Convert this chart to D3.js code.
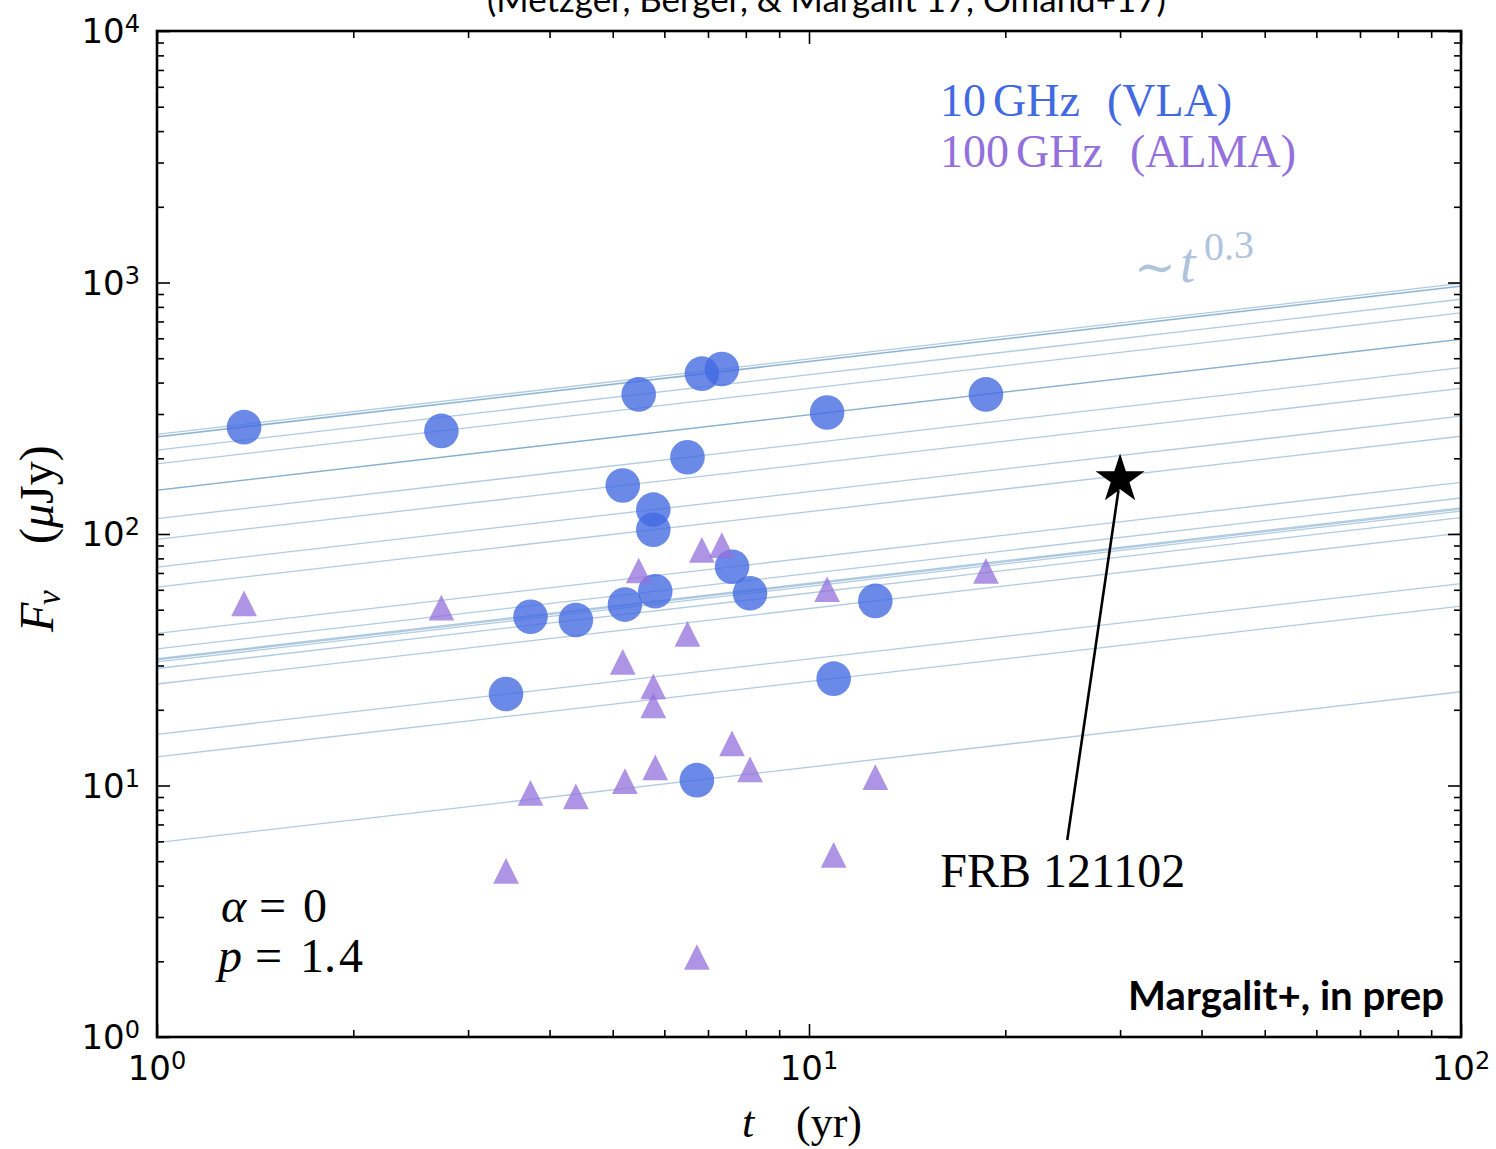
<!DOCTYPE html>
<html>
<head>
<meta charset="utf-8">
<script src="https://cdn.jsdelivr.net/npm/d3@7"></script>
<style>
  body { margin: 0; background: #fff; }
  svg { display: block; }
</style>
</head>
<body>
<svg id="chart" width="1496" height="1149"></svg>
<script>
// Source ages (yr) and flux densities (µJy) of the persistent radio sources
const ages       = [1.36, 2.73, 3.43, 3.74, 4.39, 5.18, 5.22, 5.48, 5.77, 5.77, 5.81, 6.51, 6.85, 7.35, 6.73, 7.62, 8.12, 10.66, 10.91, 12.64, 18.68];
const flux10GHz  = [266, 257, 23.1, 46.9, 45.5, 156, 52.4, 359, 125, 104, 59.2, 202, 434, 453, 10.5, 74.1, 58.1, 304, 26.6, 54.2, 359];
const flux100GHz = [53.0, 51.0, 4.58, 9.35, 9.06, 31.0, 10.4, 71.6, 24.8, 20.8, 11.8, 40.1, 86.4, 90.3, 2.08, 14.7, 11.6, 60.3, 5.30, 10.8, 71.4];

// FRB 121102 persistent source
const frbAge = 30;
const frbFlux = 165;
const frbLabelPos = [15.9, 3.95];   // (t, F) of the label's baseline start

// Rising light-curve tracks  F ∝ t^0.3
const growthIndex = 0.3;

const xDomain = [1, 100];
const yDomain = [1, 1e4];
const xMajor = [1, 10, 100];
const yMajor = [1, 10, 100, 1000, 10000];
const xExponents = ["0", "1", "2"];
const yExponents = ["0", "1", "2", "3", "4"];

const plot = { left: 157, right: 1461, top: 31, bottom: 1037 };

const svg = d3.select("#chart");
const x = d3.scaleLog().domain(xDomain).range([plot.left, plot.right]);
const y = d3.scaleLog().domain(yDomain).range([plot.bottom, plot.top]);

function minorTicks(domain) {
  const out = [];
  for (let d = domain[0]; d < domain[1]; d *= 10)
    for (let k = 2; k <= 9; k++) out.push(d * k);
  return out;
}

const SERIF = "'Liberation Serif', 'DejaVu Serif', serif";
const SANS = "'DejaVu Sans', sans-serif";

svg.append("defs").append("clipPath").attr("id", "plotClip")
  .append("rect")
  .attr("x", plot.left).attr("y", plot.top)
  .attr("width", plot.right - plot.left).attr("height", plot.bottom - plot.top);

// ---- power-law tracks through each 10 GHz point ----
const trackLine = d3.line().x(d => x(d[0])).y(d => y(d[1]));
const tracks = ages.map((t0, i) => xDomain.map(t => [t, flux10GHz[i] * Math.pow(t / t0, growthIndex)]));
svg.append("g").attr("clip-path", "url(#plotClip)")
  .selectAll("path").data(tracks).join("path")
  .attr("d", trackLine)
  .attr("fill", "none")
  .attr("stroke", "#4682b4")
  .attr("stroke-opacity", 0.42)
  .attr("stroke-width", 1.3);

// ---- 10 GHz (VLA) points ----
const pts = ages.map((t, i) => ({ t, f10: flux10GHz[i], f100: flux100GHz[i] }));
svg.append("g").selectAll("circle").data(pts).join("circle")
  .attr("cx", d => x(d.t)).attr("cy", d => y(d.f10))
  .attr("r", 17.3)
  .attr("fill", "#4169e1")
  .attr("fill-opacity", 0.78);

// ---- 100 GHz (ALMA) points ----
const tri = h => `M0,${-h}L${h},${h}L${-h},${h}Z`;
svg.append("g").selectAll("path").data(pts).join("path")
  .attr("d", tri(12.85))
  .attr("transform", d => `translate(${x(d.t)},${y(d.f100)})`)
  .attr("fill", "#9370db")
  .attr("fill-opacity", 0.75);

// ---- FRB 121102 star and annotation ----
const starX = x(frbAge), starY = y(frbFlux);
svg.append("path")
  .attr("d", d3.symbol().type(d3.symbolStar).size(747)())
  .attr("transform", `translate(${starX},${starY})`)
  .attr("fill", "#000");

const frbText = svg.append("text")
  .attr("x", x(frbLabelPos[0])).attr("y", y(frbLabelPos[1]))
  .attr("font-family", SERIF).attr("font-size", 48).attr("fill", "#000");
frbText.append("tspan").text("FRB");
frbText.append("tspan").attr("dx", 12).text("121102");

{
  const bb = frbText.node().getBBox();
  const cx = bb.x + bb.width / 2, cy = bb.y + bb.height / 2;
  const dx = starX - cx, dy = starY - cy;
  const len = Math.hypot(dx, dy);
  const ux = dx / len, uy = dy / len;
  const sTop = (bb.y - 4 - cy) / uy;       // leave the label's box
  const x1 = cx + ux * sTop, y1 = cy + uy * sTop;
  const x2 = starX - ux * 11, y2 = starY - uy * 11;
  svg.append("line")
    .attr("x1", x1).attr("y1", y1).attr("x2", x2).attr("y2", y2)
    .attr("stroke", "#000").attr("stroke-width", 2.6);
}

// ---- axes: ticks on all four sides, pointing inward ----
function tickGroup(axisFn, scale, values, size, transform) {
  const g = svg.append("g").attr("transform", transform)
    .call(axisFn(scale).tickValues(values).tickSize(-size).tickFormat(""));
  g.select(".domain").remove();
  g.selectAll(".tick line").attr("stroke", "#000").attr("stroke-width", 1.6);
  return g;
}
const xMinor = minorTicks(xDomain), yMinor = minorTicks(yDomain);
tickGroup(d3.axisBottom, x, xMajor, 13, `translate(0,${plot.bottom})`);
tickGroup(d3.axisBottom, x, xMinor, 7, `translate(0,${plot.bottom})`);
tickGroup(d3.axisTop, x, xMajor, 13, `translate(0,${plot.top})`);
tickGroup(d3.axisTop, x, xMinor, 7, `translate(0,${plot.top})`);
tickGroup(d3.axisLeft, y, yMajor, 13, `translate(${plot.left},0)`);
tickGroup(d3.axisLeft, y, yMinor, 7, `translate(${plot.left},0)`);
tickGroup(d3.axisRight, y, yMajor, 13, `translate(${plot.right},0)`);
tickGroup(d3.axisRight, y, yMinor, 7, `translate(${plot.right},0)`);

// frame
svg.append("rect")
  .attr("x", plot.left).attr("y", plot.top)
  .attr("width", plot.right - plot.left).attr("height", plot.bottom - plot.top)
  .attr("fill", "none").attr("stroke", "#000").attr("stroke-width", 2.6);

// tick labels 10^n
function powLabel(sel) {
  sel.append("tspan").attr("font-size", 34).text("10");
  sel.append("tspan").attr("font-size", 24).attr("dy", -11).text(d => d.e);
}
svg.append("g").selectAll("text")
  .data(xMajor.map((v, i) => ({ v, e: xExponents[i] })))
  .join("text")
  .attr("x", d => x(d.v)).attr("y", plot.bottom + 43)
  .attr("text-anchor", "middle").attr("font-family", SANS).attr("fill", "#000")
  .call(powLabel);
svg.append("g").selectAll("text")
  .data(yMajor.map((v, i) => ({ v, e: yExponents[i] })))
  .join("text")
  .attr("x", plot.left - 17).attr("y", d => y(d.v) + 12)
  .attr("text-anchor", "end").attr("font-family", SANS).attr("fill", "#000")
  .call(powLabel);

// ---- axis titles ----
const xl = svg.append("g").attr("font-family", SERIF).attr("font-size", 44).attr("fill", "#000");
xl.append("text").attr("x", 742).attr("y", 1137).attr("font-style", "italic").text("t");
xl.append("text").attr("x", 796).attr("y", 1137).text("(yr)");

const yl = svg.append("g").attr("transform", "translate(53,632) rotate(-90)")
  .attr("font-family", SERIF).attr("fill", "#000");
yl.append("text").attr("x", 0).attr("y", 0).attr("font-size", 48).attr("font-style", "italic").text("F");
yl.append("text").attr("x", 27).attr("y", 7).attr("font-size", 33).attr("font-style", "italic").text("ν");
const ylu = yl.append("text").attr("x", 88).attr("y", 0).attr("font-size", 48);
ylu.append("tspan").text("(");
ylu.append("tspan").attr("font-style", "italic").text("μ");
ylu.append("tspan").text("Jy)");

// ---- legend text ----
function pieces(g, parts, baseline) {
  parts.forEach(p => {
    const t = g.append("text").attr("x", p[0]).attr("y", baseline).text(p[1]);
    if (p[2]) t.attr("font-style", "italic");
  });
}
const lg1 = svg.append("g").attr("font-family", SERIF).attr("font-size", 46).attr("fill", "#4169e1");
pieces(lg1, [[940, "10"], [993, "GHz"], [1107, "(VLA)"]], 116);
const lg2 = svg.append("g").attr("font-family", SERIF).attr("font-size", 46).attr("fill", "#9370db");
pieces(lg2, [[940, "100"], [1016, "GHz"], [1130, "(ALMA)"]], 167);

// slope note
const slope = svg.append("g").attr("font-family", SERIF).attr("fill", "#b0c4de");
slope.append("text").attr("x", 1134).attr("y", 284).attr("font-size", 50).attr("font-family", "'DejaVu Serif', serif").text("∼");
slope.append("text").attr("x", 1180).attr("y", 282).attr("font-size", 56).attr("font-style", "italic").text("t");
slope.append("text").attr("x", 1204).attr("y", 260).attr("font-size", 40).text("0.");
slope.append("text").attr("x", 1234).attr("y", 258).attr("font-size", 40).text("3");

// model parameters
const par = svg.append("g").attr("font-family", SERIF).attr("font-size", 48).attr("fill", "#000");
pieces(par, [[221, "α", true], [259, "="], [303, "0"]], 922);
pieces(par, [[218, "p", true], [255, "="], [300, "1."], [339, "4"]], 972);

// credit and reference line
function fitText(sel, target) {
  const base = +sel.attr("font-size");
  const w = sel.node().getComputedTextLength();
  sel.attr("font-size", base * target / w);
}
const credit = svg.append("text")
  .attr("x", 1444).attr("y", 1010).attr("text-anchor", "end")
  .attr("font-family", "Lato, 'Open Sans', sans-serif").attr("font-weight", 700)
  .attr("font-size", 36).attr("fill", "#000")
  .text("Margalit+, in prep");
fitText(credit, 316);

const refs = svg.append("text")
  .attr("x", 487).attr("y", 12)
  .attr("font-family", "Lato, 'Open Sans', sans-serif")
  .attr("font-size", 32).attr("fill", "#000")
  .text("(Metzger, Berger, & Margalit 17, Omand+17)");
fitText(refs, 679);
</script>
</body>
</html>
